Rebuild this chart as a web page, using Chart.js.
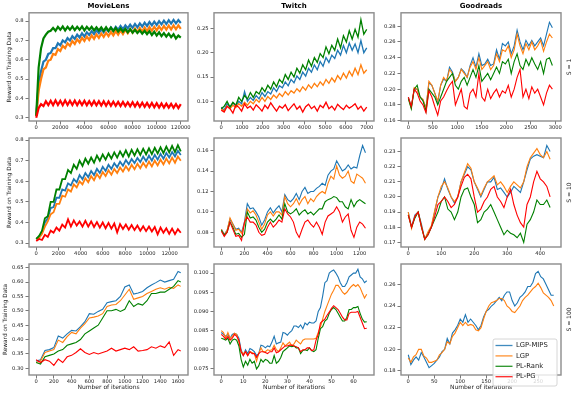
<!DOCTYPE html>
<html><head><meta charset="utf-8">
<script src="https://cdn.jsdelivr.net/npm/chart.js@4/dist/chart.umd.min.js"></script>
<style>
html,body{margin:0;padding:0;background:#fff;}
#wrap{position:relative;width:578px;height:396px;overflow:hidden;background:#fff;}
canvas{position:absolute;}
</style></head><body><div id="wrap"></div>
<script>
const seriesNames = ['LGP-MIPS','LGP','PL-Rank','PL-PG'];
const seriesColors = ['#1f77b4','#ff7f0e','#008000','#ff0000'];
const datasetTitles = ['MovieLens','Twitch','Goodreads'];
const rowLabels = ['S = 1','S = 10','S = 100'];
const yAxisTitle = 'Reward on Training Data';
const xAxisTitle = 'Number of iterations';

// ---- MovieLens, S = 1 ----
const mlS1Iter = [0,2000,4000,6000,8000,10000,12000,14000,16000,18000,20000,22000,24000,26000,28000,30000,32000,34000,36000,38000,40000,42000,44000,46000,48000,50000,52000,54000,56000,58000,60000,62000,64000,66000,68000,70000,72000,74000,76000,78000,80000,82000,84000,86000,88000,90000,92000,94000,96000,98000,100000,102000,104000,106000,108000,110000,112000,114000,116000,118000,120000];
const mlS1Mips = [0.31,0.47,0.54,0.59,0.6,0.63,0.635,0.66,0.66,0.685,0.675,0.7,0.69,0.712,0.7,0.722,0.708,0.73,0.715,0.737,0.72,0.742,0.728,0.748,0.733,0.753,0.738,0.758,0.742,0.762,0.747,0.767,0.75,0.77,0.755,0.775,0.758,0.778,0.762,0.782,0.765,0.785,0.768,0.788,0.772,0.792,0.775,0.795,0.778,0.797,0.78,0.8,0.783,0.802,0.785,0.805,0.787,0.806,0.788,0.805,0.79];
const mlS1Lgp = [0.31,0.44,0.5,0.55,0.56,0.595,0.6,0.63,0.625,0.655,0.645,0.672,0.66,0.685,0.672,0.697,0.682,0.706,0.69,0.714,0.697,0.72,0.703,0.726,0.708,0.731,0.713,0.736,0.718,0.74,0.722,0.744,0.726,0.748,0.73,0.752,0.733,0.755,0.737,0.758,0.74,0.761,0.743,0.764,0.746,0.767,0.748,0.769,0.75,0.771,0.752,0.773,0.754,0.775,0.756,0.777,0.757,0.778,0.758,0.778,0.76];
const mlS1Rank = [0.31,0.56,0.66,0.71,0.73,0.745,0.75,0.765,0.75,0.77,0.755,0.772,0.752,0.77,0.755,0.772,0.753,0.77,0.755,0.772,0.752,0.77,0.755,0.77,0.752,0.768,0.752,0.768,0.75,0.768,0.75,0.766,0.748,0.765,0.746,0.762,0.745,0.76,0.742,0.758,0.74,0.755,0.738,0.752,0.735,0.75,0.732,0.748,0.728,0.745,0.725,0.742,0.722,0.738,0.72,0.735,0.717,0.732,0.71,0.725,0.715];
const mlS1Pg = [0.3,0.35,0.37,0.36,0.385,0.365,0.388,0.365,0.39,0.366,0.388,0.365,0.39,0.366,0.388,0.366,0.389,0.365,0.387,0.366,0.388,0.365,0.386,0.364,0.386,0.364,0.385,0.363,0.385,0.362,0.384,0.362,0.383,0.361,0.382,0.36,0.382,0.36,0.38,0.359,0.38,0.358,0.379,0.357,0.378,0.356,0.377,0.355,0.376,0.354,0.375,0.353,0.374,0.352,0.373,0.352,0.372,0.351,0.371,0.35,0.37];
const mlS1XTicks = ['0','20000','40000','60000','80000','100000','120000'];
const mlS1YTicks = ['0.3','0.4','0.5','0.6','0.7','0.8'];

// ---- Twitch, S = 1 ----
const twS1Iter = [0,140,280,420,560,700,840,980,1120,1260,1400,1540,1680,1820,1960,2100,2240,2380,2520,2660,2800,2940,3080,3220,3360,3500,3640,3780,3920,4060,4200,4340,4480,4620,4760,4900,5040,5180,5320,5460,5600,5740,5880,6020,6160,6300,6440,6580,6720,6860,7000];
const twS1Mips = [0.088,0.082,0.095,0.088,0.097,0.09,0.1,0.095,0.12,0.1,0.108,0.102,0.112,0.105,0.118,0.11,0.12,0.115,0.128,0.12,0.132,0.128,0.14,0.132,0.145,0.138,0.152,0.145,0.16,0.152,0.168,0.16,0.175,0.165,0.182,0.172,0.19,0.18,0.195,0.188,0.205,0.195,0.215,0.2,0.22,0.205,0.218,0.2,0.225,0.2,0.21];
const twS1Lgp = [0.085,0.08,0.09,0.085,0.092,0.087,0.095,0.09,0.098,0.092,0.1,0.095,0.104,0.098,0.108,0.1,0.11,0.104,0.113,0.107,0.116,0.11,0.12,0.113,0.122,0.117,0.126,0.12,0.13,0.123,0.134,0.127,0.137,0.13,0.14,0.133,0.145,0.137,0.148,0.14,0.153,0.145,0.158,0.148,0.162,0.152,0.168,0.155,0.175,0.158,0.165];
const twS1Rank = [0.085,0.09,0.1,0.088,0.098,0.092,0.108,0.1,0.112,0.105,0.118,0.108,0.12,0.115,0.128,0.12,0.133,0.125,0.14,0.13,0.145,0.138,0.155,0.145,0.16,0.15,0.168,0.158,0.175,0.165,0.185,0.172,0.19,0.18,0.198,0.19,0.212,0.198,0.215,0.205,0.228,0.21,0.235,0.222,0.245,0.228,0.248,0.232,0.268,0.238,0.248];
const twS1Pg = [0.082,0.078,0.09,0.085,0.076,0.092,0.088,0.08,0.095,0.086,0.09,0.082,0.093,0.087,0.08,0.092,0.085,0.097,0.088,0.08,0.09,0.086,0.093,0.081,0.088,0.095,0.084,0.09,0.078,0.089,0.094,0.085,0.09,0.08,0.092,0.087,0.098,0.085,0.09,0.082,0.094,0.088,0.083,0.092,0.086,0.09,0.095,0.084,0.09,0.08,0.088];
const twS1XTicks = ['0','1000','2000','3000','4000','5000','6000','7000'];
const twS1YTicks = ['0.10','0.15','0.20','0.25'];

// ---- Goodreads, S = 1 ----
const grS1Iter = [0,60,120,180,240,300,360,420,480,540,600,660,720,780,840,900,960,1020,1080,1140,1200,1260,1320,1380,1440,1500,1560,1620,1680,1740,1800,1860,1920,1980,2040,2100,2160,2220,2280,2340,2400,2460,2520,2580,2640,2700,2760,2820,2880,2940];
const grS1Mips = [0.19,0.177,0.2,0.2,0.19,0.186,0.176,0.208,0.205,0.195,0.183,0.205,0.213,0.21,0.228,0.222,0.21,0.215,0.226,0.222,0.215,0.23,0.24,0.228,0.245,0.23,0.232,0.238,0.23,0.232,0.25,0.238,0.258,0.255,0.26,0.245,0.255,0.275,0.26,0.25,0.262,0.255,0.262,0.255,0.26,0.265,0.255,0.27,0.285,0.278];
const grS1Lgp = [0.188,0.176,0.202,0.2,0.19,0.187,0.175,0.21,0.205,0.195,0.185,0.205,0.215,0.21,0.225,0.22,0.21,0.215,0.225,0.22,0.215,0.228,0.235,0.225,0.24,0.225,0.23,0.235,0.225,0.23,0.245,0.235,0.25,0.248,0.255,0.24,0.25,0.27,0.255,0.245,0.258,0.25,0.26,0.25,0.255,0.262,0.248,0.26,0.27,0.265];
const grS1Rank = [0.188,0.175,0.2,0.205,0.19,0.185,0.172,0.2,0.195,0.19,0.18,0.19,0.2,0.21,0.215,0.22,0.205,0.2,0.21,0.215,0.205,0.215,0.225,0.215,0.23,0.21,0.215,0.22,0.212,0.22,0.228,0.22,0.235,0.232,0.238,0.22,0.235,0.245,0.23,0.225,0.238,0.23,0.24,0.232,0.225,0.235,0.22,0.238,0.24,0.23];
const grS1Pg = [0.19,0.178,0.2,0.195,0.185,0.18,0.17,0.198,0.19,0.178,0.167,0.185,0.19,0.198,0.205,0.21,0.18,0.19,0.2,0.178,0.175,0.195,0.2,0.19,0.22,0.19,0.185,0.2,0.188,0.195,0.2,0.19,0.198,0.195,0.205,0.19,0.2,0.215,0.225,0.19,0.2,0.188,0.203,0.195,0.2,0.19,0.18,0.195,0.205,0.2];
const grS1XTicks = ['0','500','1000','1500','2000','2500','3000'];
const grS1YTicks = ['0.16','0.18','0.20','0.22','0.24','0.26','0.28'];

// ---- MovieLens, S = 10 ----
const mlS10Iter = [0,260,520,780,1040,1300,1560,1820,2080,2340,2600,2860,3120,3380,3640,3900,4160,4420,4680,4940,5200,5460,5720,5980,6240,6500,6760,7020,7280,7540,7800,8060,8320,8580,8840,9100,9360,9620,9880,10140,10400,10660,10920,11180,11440,11700,11960,12220,12480,12740,13000];
const mlS10Mips = [0.32,0.33,0.35,0.4,0.42,0.47,0.475,0.52,0.52,0.56,0.555,0.59,0.58,0.61,0.595,0.63,0.61,0.64,0.62,0.65,0.63,0.66,0.64,0.67,0.65,0.68,0.66,0.688,0.668,0.695,0.675,0.703,0.682,0.708,0.688,0.713,0.693,0.72,0.697,0.724,0.7,0.728,0.705,0.733,0.71,0.737,0.715,0.742,0.72,0.748,0.728];
const mlS10Lgp = [0.32,0.325,0.345,0.38,0.405,0.44,0.45,0.49,0.49,0.53,0.525,0.56,0.55,0.585,0.57,0.6,0.585,0.615,0.595,0.625,0.605,0.635,0.615,0.645,0.625,0.653,0.632,0.66,0.64,0.667,0.647,0.673,0.652,0.68,0.658,0.685,0.663,0.69,0.668,0.695,0.672,0.7,0.677,0.705,0.682,0.71,0.687,0.715,0.69,0.72,0.7];
const mlS10Rank = [0.32,0.335,0.36,0.42,0.43,0.5,0.5,0.56,0.56,0.61,0.61,0.655,0.64,0.68,0.66,0.7,0.675,0.71,0.685,0.715,0.69,0.725,0.7,0.73,0.705,0.735,0.71,0.74,0.715,0.745,0.72,0.75,0.72,0.752,0.725,0.755,0.728,0.758,0.73,0.76,0.732,0.762,0.735,0.765,0.737,0.768,0.74,0.772,0.742,0.775,0.745];
const mlS10Pg = [0.31,0.32,0.315,0.34,0.33,0.36,0.35,0.375,0.36,0.39,0.375,0.415,0.38,0.41,0.385,0.405,0.38,0.408,0.38,0.405,0.378,0.402,0.375,0.4,0.372,0.398,0.37,0.395,0.352,0.392,0.368,0.39,0.365,0.388,0.363,0.385,0.36,0.382,0.358,0.38,0.356,0.378,0.342,0.375,0.35,0.372,0.345,0.37,0.343,0.368,0.35];
const mlS10XTicks = ['0','2000','4000','6000','8000','10000','12000'];
const mlS10YTicks = ['0.3','0.4','0.5','0.6','0.7','0.8'];

// ---- Twitch, S = 10 ----
const twS10Iter = [0,25,50,75,100,125,150,175,200,225,250,275,300,325,350,375,400,425,450,475,500,525,550,575,600,625,650,675,700,725,750,775,800,825,850,875,900,925,950,975,1000,1025,1050,1075,1100,1125,1150,1175,1200,1225,1250];
const twS10Mips = [0.083,0.078,0.082,0.093,0.088,0.083,0.084,0.08,0.09,0.108,0.103,0.104,0.1,0.095,0.087,0.092,0.1,0.104,0.099,0.103,0.106,0.1,0.117,0.112,0.11,0.113,0.118,0.112,0.12,0.124,0.118,0.12,0.12,0.123,0.125,0.128,0.126,0.136,0.14,0.142,0.15,0.145,0.14,0.142,0.146,0.142,0.144,0.143,0.155,0.165,0.158];
const twS10Lgp = [0.083,0.077,0.082,0.094,0.088,0.082,0.083,0.079,0.088,0.103,0.099,0.101,0.097,0.09,0.083,0.088,0.097,0.1,0.096,0.1,0.1,0.097,0.115,0.108,0.105,0.108,0.113,0.107,0.112,0.115,0.108,0.113,0.11,0.115,0.118,0.12,0.118,0.128,0.135,0.132,0.145,0.136,0.133,0.135,0.14,0.13,0.128,0.137,0.135,0.133,0.128];
const twS10Rank = [0.082,0.077,0.08,0.09,0.085,0.078,0.079,0.075,0.078,0.1,0.094,0.095,0.092,0.085,0.08,0.083,0.09,0.093,0.09,0.093,0.097,0.093,0.108,0.1,0.098,0.1,0.103,0.097,0.1,0.102,0.098,0.1,0.097,0.1,0.103,0.103,0.11,0.112,0.113,0.115,0.114,0.11,0.11,0.105,0.103,0.112,0.105,0.11,0.112,0.11,0.108];
const twS10Pg = [0.081,0.076,0.08,0.09,0.083,0.076,0.077,0.072,0.09,0.095,0.09,0.09,0.087,0.08,0.077,0.078,0.085,0.09,0.085,0.088,0.092,0.09,0.103,0.098,0.095,0.09,0.08,0.075,0.083,0.09,0.092,0.088,0.085,0.09,0.085,0.078,0.09,0.096,0.098,0.1,0.105,0.1,0.09,0.095,0.098,0.082,0.075,0.085,0.09,0.088,0.084];
const twS10XTicks = ['0','200','400','600','800','1000','1200'];
const twS10YTicks = ['0.08','0.10','0.12','0.14','0.16'];

// ---- Goodreads, S = 10 ----
const grS10Iter = [0,10,20,30,40,50,60,70,80,90,100,110,120,130,140,150,160,170,180,190,200,210,220,230,240,250,260,270,280,290,300,310,320,330,340,350,360,370,380,390,400,410,420,430];
const grS10Mips = [0.19,0.18,0.188,0.19,0.182,0.172,0.176,0.18,0.19,0.2,0.205,0.212,0.205,0.2,0.196,0.2,0.21,0.215,0.22,0.218,0.21,0.205,0.2,0.205,0.21,0.21,0.213,0.205,0.206,0.203,0.2,0.203,0.207,0.205,0.203,0.21,0.218,0.225,0.227,0.228,0.227,0.226,0.234,0.23];
const grS10Lgp = [0.19,0.179,0.187,0.19,0.181,0.172,0.177,0.181,0.191,0.2,0.207,0.21,0.206,0.2,0.197,0.2,0.21,0.216,0.222,0.219,0.21,0.206,0.201,0.206,0.21,0.212,0.214,0.208,0.21,0.207,0.203,0.207,0.21,0.208,0.206,0.21,0.22,0.226,0.229,0.232,0.228,0.226,0.23,0.225];
const grS10Rank = [0.188,0.18,0.186,0.19,0.18,0.172,0.175,0.18,0.185,0.19,0.197,0.2,0.192,0.19,0.185,0.19,0.2,0.205,0.206,0.2,0.195,0.183,0.185,0.19,0.192,0.195,0.19,0.185,0.18,0.175,0.178,0.176,0.175,0.173,0.176,0.17,0.182,0.185,0.19,0.198,0.195,0.195,0.198,0.193];
const grS10Pg = [0.188,0.18,0.187,0.19,0.18,0.172,0.175,0.18,0.187,0.195,0.197,0.2,0.197,0.193,0.195,0.2,0.207,0.213,0.215,0.212,0.2,0.19,0.192,0.197,0.2,0.205,0.207,0.2,0.197,0.193,0.2,0.205,0.195,0.188,0.183,0.18,0.195,0.2,0.21,0.217,0.212,0.21,0.207,0.2];
const grS10XTicks = ['0','100','200','300','400'];
const grS10YTicks = ['0.17','0.18','0.19','0.20','0.21','0.22','0.23'];

// ---- MovieLens, S = 100 ----
const mlS100Iter = [0,50,100,150,200,250,300,350,400,450,500,550,600,650,700,750,800,850,900,950,1000,1050,1100,1150,1200,1250,1300,1350,1400,1450,1500,1550,1600,1630];
const mlS100Mips = [0.325,0.33,0.362,0.365,0.372,0.412,0.405,0.42,0.432,0.43,0.445,0.462,0.49,0.488,0.498,0.505,0.528,0.532,0.535,0.55,0.583,0.59,0.558,0.562,0.567,0.58,0.59,0.598,0.607,0.6,0.605,0.61,0.637,0.632];
const mlS100Lgp = [0.32,0.325,0.355,0.36,0.365,0.398,0.39,0.41,0.425,0.42,0.44,0.455,0.475,0.478,0.482,0.49,0.515,0.52,0.522,0.535,0.555,0.575,0.54,0.545,0.55,0.56,0.567,0.575,0.58,0.575,0.582,0.578,0.59,0.585];
const mlS100Rank = [0.32,0.315,0.34,0.345,0.35,0.36,0.365,0.38,0.385,0.39,0.4,0.42,0.43,0.44,0.45,0.475,0.5,0.5,0.505,0.498,0.505,0.535,0.515,0.525,0.52,0.535,0.56,0.56,0.565,0.565,0.575,0.585,0.605,0.6];
const mlS100Pg = [0.33,0.32,0.33,0.325,0.31,0.332,0.32,0.34,0.345,0.355,0.368,0.355,0.348,0.355,0.35,0.355,0.36,0.37,0.36,0.365,0.37,0.365,0.375,0.36,0.362,0.365,0.375,0.37,0.378,0.372,0.392,0.345,0.365,0.36];
const mlS100XTicks = ['0','200','400','600','800','1000','1200','1400','1600'];
const mlS100YTicks = ['0.30','0.35','0.40','0.45','0.50','0.55','0.60','0.65'];

// ---- Twitch, S = 100 ----
const twS100Iter = [0,1,2,3,4,5,6,7,8,9,10,11,12,13,14,15,16,17,18,19,20,21,22,23,24,25,26,27,28,29,30,31,32,33,34,35,36,37,38,39,40,41,42,43,44,45,46,47,48,49,50,51,52,53,54,55,56,57,58,59,60,61,62,63,64,65,66];
const twS100Mips = [0.0845,0.084,0.0835,0.084,0.083,0.084,0.0843,0.084,0.083,0.08,0.0785,0.08,0.079,0.0803,0.08,0.0795,0.0785,0.079,0.0812,0.081,0.0805,0.081,0.0808,0.082,0.0835,0.0815,0.0818,0.082,0.0845,0.0843,0.0838,0.0845,0.085,0.0862,0.0862,0.0858,0.0865,0.0855,0.087,0.0865,0.0872,0.087,0.087,0.0875,0.09,0.091,0.094,0.0975,0.098,0.1,0.1005,0.1008,0.1,0.099,0.0975,0.0965,0.0965,0.0975,0.099,0.0995,0.1,0.1,0.101,0.099,0.0985,0.0975,0.098];
const twS100Lgp = [0.085,0.0845,0.083,0.0845,0.083,0.0835,0.0843,0.084,0.082,0.0795,0.079,0.0795,0.0785,0.0795,0.0793,0.079,0.077,0.079,0.0805,0.0795,0.0795,0.08,0.0798,0.08,0.0812,0.08,0.0795,0.0805,0.0818,0.081,0.0815,0.082,0.081,0.0815,0.0825,0.082,0.0815,0.0825,0.0828,0.0828,0.0828,0.0828,0.0828,0.083,0.0845,0.086,0.088,0.09,0.0915,0.093,0.0945,0.0955,0.0968,0.0968,0.096,0.095,0.0945,0.095,0.0958,0.0965,0.097,0.0965,0.097,0.0962,0.0948,0.0935,0.0945];
const twS100Rank = [0.083,0.0828,0.0825,0.083,0.0815,0.0825,0.0828,0.0825,0.081,0.0775,0.0755,0.077,0.076,0.0775,0.0765,0.077,0.075,0.0758,0.0775,0.0768,0.0775,0.0772,0.0765,0.0765,0.0785,0.0765,0.077,0.078,0.0795,0.08,0.0805,0.081,0.0808,0.081,0.0805,0.0805,0.079,0.0798,0.08,0.0798,0.0805,0.0798,0.0795,0.08,0.083,0.0855,0.086,0.0875,0.088,0.0895,0.0905,0.091,0.0905,0.0895,0.0885,0.0875,0.0875,0.0885,0.0905,0.0905,0.091,0.091,0.0913,0.0895,0.088,0.0872,0.0873];
const twS100Pg = [0.084,0.0835,0.0828,0.0835,0.0825,0.083,0.084,0.0835,0.0825,0.0795,0.0785,0.0795,0.0785,0.0795,0.079,0.079,0.078,0.079,0.0795,0.0795,0.0793,0.079,0.0795,0.0795,0.0805,0.0792,0.0795,0.08,0.0805,0.081,0.081,0.0812,0.0812,0.081,0.0808,0.0805,0.0795,0.08,0.08,0.0805,0.0805,0.0798,0.08,0.0825,0.084,0.087,0.0875,0.088,0.089,0.0898,0.0908,0.0915,0.091,0.0905,0.0895,0.0885,0.0878,0.0878,0.0895,0.0898,0.0898,0.0898,0.09,0.0885,0.087,0.0855,0.0856];
const twS100XTicks = ['0','10','20','30','40','50','60'];
const twS100YTicks = ['0.075','0.080','0.085','0.090','0.095','0.100'];

// ---- Goodreads, S = 100 ----
const grS100Iter = [0,5,10,15,20,25,30,35,40,45,50,55,60,65,70,75,80,85,90,95,100,105,110,115,120,125,130,135,140,145,150,155,160,165,170,175,180,185,190,195,200,205,210,215,220,225,230,235,240,245,250,255,260,265,270,275,280];
const grS100Mips = [0.195,0.186,0.19,0.193,0.19,0.197,0.193,0.188,0.183,0.185,0.187,0.19,0.193,0.198,0.2,0.21,0.205,0.215,0.218,0.222,0.228,0.225,0.232,0.225,0.228,0.225,0.222,0.218,0.222,0.23,0.235,0.237,0.24,0.242,0.245,0.248,0.245,0.25,0.253,0.253,0.245,0.24,0.243,0.248,0.25,0.253,0.258,0.258,0.262,0.27,0.272,0.267,0.265,0.26,0.255,0.25,0.25];
const grS100Lgp = [0.192,0.188,0.193,0.195,0.2,0.2,0.194,0.192,0.188,0.188,0.189,0.19,0.195,0.197,0.2,0.207,0.205,0.212,0.215,0.22,0.225,0.222,0.225,0.222,0.223,0.222,0.218,0.217,0.22,0.228,0.235,0.24,0.243,0.244,0.245,0.247,0.247,0.245,0.24,0.238,0.235,0.234,0.237,0.24,0.245,0.248,0.25,0.253,0.256,0.258,0.261,0.257,0.252,0.25,0.248,0.245,0.24];
const grS100Rank = [];
const grS100Pg = [];
const grS100XTicks = ['0','50','100','150','200','250'];
const grS100YTicks = ['0.18','0.20','0.22','0.24','0.26'];

// ---------- layout (positions and styles only) ----------
const layoutCols = [
  {left:0, width:200, yw:29, pr:12},
  {left:185, width:200, yw:29, pr:11},
  {left:370, width:208, yw:31, pr:17}
];
const layoutRows = [
  {top:0, height:132, pt:0, xh:11, ytPad:6.5},
  {top:130, height:128, pt:8, xh:11, ytPad:6.5},
  {top:256, height:140, pt:8, xh:21, ytPad:2.5}
];

const panels = [
  {row:0,col:0,lw:2.2,iters:mlS1Iter,series:[mlS1Mips,mlS1Lgp,mlS1Rank,mlS1Pg],xTicks:mlS1XTicks,yTicks:mlS1YTicks,xr:[-6000,126000],yr:[0.283,0.843]},
  {row:0,col:1,lw:1.3,iters:twS1Iter,series:[twS1Mips,twS1Lgp,twS1Rank,twS1Pg],xTicks:twS1XTicks,yTicks:twS1YTicks,xr:[-350,7350],yr:[0.0596,0.282]},
  {row:0,col:2,lw:1.1,iters:grS1Iter,series:[grS1Mips,grS1Lgp,grS1Rank,grS1Pg],xTicks:grS1XTicks,yTicks:grS1YTicks,xr:[-150,3116],yr:[0.1596,0.297]},
  {row:1,col:0,lw:1.8,iters:mlS10Iter,series:[mlS10Mips,mlS10Lgp,mlS10Rank,mlS10Pg],xTicks:mlS10XTicks,yTicks:mlS10YTicks,xr:[-650,13650],yr:[0.281,0.81]},
  {row:1,col:1,lw:1.1,iters:twS10Iter,series:[twS10Mips,twS10Lgp,twS10Rank,twS10Pg],xTicks:twS10XTicks,yTicks:twS10YTicks,xr:[-64,1324],yr:[0.0656,0.1724]},
  {row:1,col:2,lw:1.1,iters:grS10Iter,series:[grS10Mips,grS10Lgp,grS10Rank,grS10Pg],xTicks:grS10XTicks,yTicks:grS10YTicks,xr:[-22,463],yr:[0.1669,0.239]},
  {row:2,col:0,lw:1.1,iters:mlS100Iter,series:[mlS100Mips,mlS100Lgp,mlS100Rank,mlS100Pg],xTicks:mlS100XTicks,yTicks:mlS100YTicks,xr:[-80,1712],yr:[0.2767,0.6628]},
  {row:2,col:1,lw:1.1,iters:twS100Iter,series:[twS100Mips,twS100Lgp,twS100Rank,twS100Pg],xTicks:twS100XTicks,yTicks:twS100YTicks,xr:[-3.3,69.3],yr:[0.07342,0.10237]},
  {row:2,col:2,lw:1.1,iters:grS100Iter,series:[grS100Mips,grS100Lgp,grS100Rank,grS100Pg],xTicks:grS100XTicks,yTicks:grS100YTicks,xr:[-14,294],yr:[0.1763,0.2788],legend:true}
];

Chart.defaults.font.family = "'DejaVu Sans', sans-serif";
Chart.defaults.color = '#222';

const framePlugin = {
  id:'frame',
  afterDatasetsDraw(chart){
    const {ctx, chartArea:a} = chart;
    ctx.save();
    ctx.strokeStyle = '#8c8c8c';
    ctx.lineWidth = 1.4;
    ctx.strokeRect(a.left, a.top, a.right - a.left, a.bottom - a.top);
    ctx.restore();
  }
};

function rowLabelPlugin(text){
  return {
    id:'rowLabel',
    afterDraw(chart){
      const {ctx, chartArea:a} = chart;
      ctx.save();
      ctx.translate(199.3, (a.top + a.bottom) / 2);
      ctx.rotate(-Math.PI / 2);
      ctx.font = "6px 'DejaVu Sans'";
      ctx.fillStyle = '#222';
      ctx.textAlign = 'center';
      ctx.textBaseline = 'middle';
      ctx.fillText(text, 0, 0);
      ctx.restore();
    }
  };
}

const legendPlugin = {
  id:'boxLegend',
  afterDraw(chart){
    const ctx = chart.ctx;
    const x0 = 123, y0 = 83, w = 64, h = 47;
    ctx.save();
    ctx.beginPath();
    if (ctx.roundRect) ctx.roundRect(x0, y0, w, h, 2); else ctx.rect(x0, y0, w, h);
    ctx.fillStyle = 'rgba(255,255,255,0.8)';
    ctx.fill();
    ctx.strokeStyle = '#cccccc';
    ctx.lineWidth = 0.8;
    ctx.stroke();
    ctx.font = "6.8px 'DejaVu Sans'";
    ctx.textBaseline = 'middle';
    ctx.textAlign = 'left';
    seriesNames.forEach((name, k) => {
      const y = y0 + 6.5 + k * 10.4;
      ctx.strokeStyle = seriesColors[k];
      ctx.globalAlpha = 0.85;
      ctx.lineWidth = 1.3;
      ctx.beginPath(); ctx.moveTo(x0 + 2.5, y); ctx.lineTo(x0 + 19.5, y); ctx.stroke();
      ctx.globalAlpha = 1;
      ctx.fillStyle = '#222';
      ctx.fillText(name, x0 + 23, y);
    });
    ctx.restore();
  }
};

const wrap = document.getElementById('wrap');

panels.forEach(p => {
  const c = layoutCols[p.col], r = layoutRows[p.row];
  const cv = document.createElement('canvas');
  cv.width = c.width; cv.height = r.height;
  cv.style.left = c.left + 'px'; cv.style.top = r.top + 'px';
  cv.style.width = c.width + 'px'; cv.style.height = r.height + 'px';
  wrap.appendChild(cv);
  const xVals = p.xTicks.map(Number);
  const yVals = p.yTicks.map(Number);
  const plugins = [framePlugin];
  if (p.col === 2) plugins.push(rowLabelPlugin(rowLabels[p.row]));
  if (p.legend) plugins.push(legendPlugin);
  new Chart(cv, {
    type:'line',
    data:{
      datasets: p.series.map((ys, k) => ({
        label: seriesNames[k],
        data: ys.map((y, i) => ({x: p.iters[i], y: y})),
        borderColor: seriesColors[k],
        backgroundColor: seriesColors[k],
        borderWidth: p.lw,
        borderJoinStyle: 'miter',
        pointRadius: 0,
        fill: false,
        tension: 0,
        order: 3 - k
      }))
    },
    options:{
      responsive:false,
      animation:false,
      devicePixelRatio:1,
      events:[],
      layout:{padding:{top:r.pt, right:c.pr, left:0, bottom:0}},
      plugins:{
        legend:{display:false},
        tooltip:{enabled:false},
        title:{
          display: p.row === 0,
          text: datasetTitles[p.col],
          fullSize:false,
          color:'#000',
          font:{size:7, weight:'bold'},
          padding:{top:2, bottom:2.4}
        }
      },
      scales:{
        x:{
          type:'linear',
          min:p.xr[0], max:p.xr[1],
          afterBuildTicks: s => { s.ticks = xVals.map(v => ({value:v})); },
          afterFit: s => { s.height = r.xh; },
          ticks:{callback:(v, i) => p.xTicks[i], autoSkip:false, maxRotation:0, minRotation:0, padding:0.5, font:{size:5.2}, color:'#222'},
          grid:{drawOnChartArea:false, drawTicks:true, tickLength:3.5, color:'#555', lineWidth:0.8},
          border:{display:false},
          title:{display: p.row === 2, text: xAxisTitle, color:'#222', font:{size:6}, padding:{top:0, bottom:4.5}}
        },
        y:{
          type:'linear',
          min:p.yr[0], max:p.yr[1],
          afterBuildTicks: s => { s.ticks = yVals.map(v => ({value:v})); },
          afterFit: s => { s.width = c.yw; },
          ticks:{callback:(v, i) => p.yTicks[i], autoSkip:false, padding:2, font:{size:5.2}, color:'#222'},
          grid:{drawOnChartArea:false, drawTicks:true, tickLength:3.5, color:'#555', lineWidth:0.8},
          border:{display:false},
          title:{display: p.col === 0, text: yAxisTitle, color:'#222', font:{size:5.8}, padding:{top:r.ytPad, bottom:0}}
        }
      }
    },
    plugins: plugins
  });
});
</script>
</body></html>
